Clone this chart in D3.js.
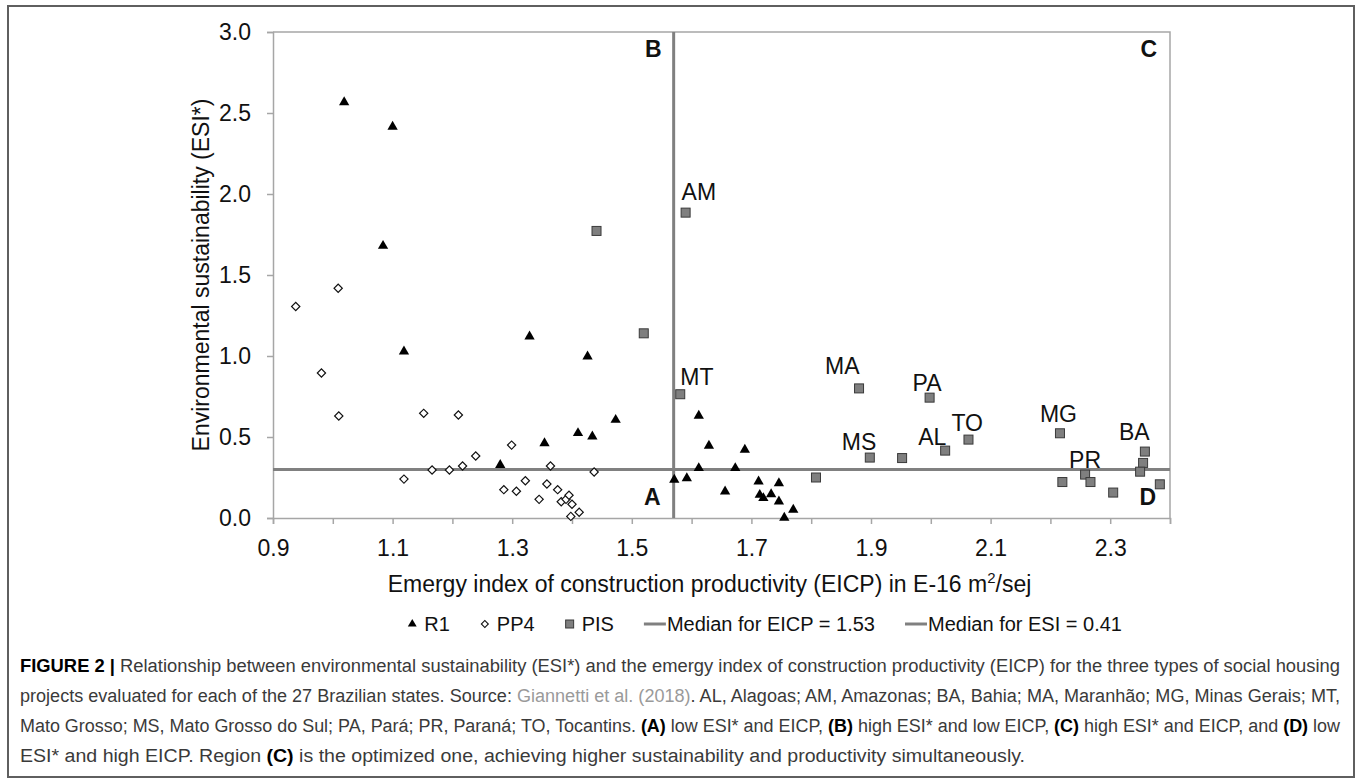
<!DOCTYPE html>
<html><head><meta charset="utf-8">
<script src="https://cdn.jsdelivr.net/npm/d3@7"></script>
<style>
body{margin:0;background:#fff}
svg{display:block}
text{font-family:Arial,"Liberation Sans",Helvetica,sans-serif;white-space:pre}
</style>
</head><body>
<svg id="chart" width="1360" height="779"></svg>
<script>
// ---------------- data ----------------
const r1X = [1.019,1.100,1.084,1.119,1.329,1.426,1.473,1.410,1.434,1.354,1.280,1.612,1.629,1.689,1.612,1.673,1.571,1.592,1.656,1.712,1.714,1.720,1.733,1.746,1.746,1.755,1.770];
const r1Y = [2.570,2.418,1.683,1.031,1.123,1.000,0.609,0.527,0.506,0.465,0.330,0.634,0.449,0.424,0.311,0.311,0.239,0.249,0.167,0.228,0.146,0.126,0.150,0.218,0.105,0.005,0.054];

const pp4X = [0.938,0.981,1.009,1.010,1.119,1.152,1.166,1.195,1.210,1.217,1.239,1.286,1.299,1.307,1.322,1.345,1.358,1.364,1.376,1.382,1.390,1.395,1.400,1.398,1.412,1.437];
const pp4Y = [1.305,0.895,1.418,0.630,0.240,0.646,0.296,0.296,0.636,0.321,0.383,0.175,0.450,0.165,0.230,0.115,0.210,0.321,0.175,0.100,0.115,0.140,0.085,0.010,0.035,0.284];

const pisX = [1.590,1.441,1.520,1.581,1.880,1.898,1.952,1.808,1.998,2.024,2.063,2.216,2.358,2.355,2.350,2.258,2.220,2.267,2.305,2.383];
const pisY = [1.885,1.772,1.140,0.764,0.800,0.373,0.370,0.250,0.743,0.416,0.484,0.523,0.410,0.340,0.286,0.268,0.222,0.222,0.157,0.208];
const pisLabels = ["AM","","","MT","MA","MS","","","PA","AL","TO","MG","BA","","","PR","","","",""];

const xTickValues = [0.9,1.0,1.1,1.2,1.3,1.4,1.5,1.6,1.7,1.8,1.9,2.0,2.1,2.2,2.3,2.4];
const xTickLabels = ["0.9","1.1","1.3","1.5","1.7","1.9","2.1","2.3"];
const yTickValues = [0,0.5,1.0,1.5,2.0,2.5,3.0];

const medianEICPLine = 1.57;
const medianESILine = 0.30;

const legendLabels = ["R1","PP4","PIS","Median for EICP = 1.53","Median for ESI = 0.41"];
const quadrantLabels = ["A","B","C","D"];

const xTitle = "Emergy index of construction productivity (EICP) in E-16 m";
const yTitle = "Environmental sustainability (ESI*)";

const captionLines = [
  [["FIGURE 2 |","b"],[" Relationship between environmental sustainability (ESI*) and the emergy index of construction productivity (EICP) for the three types of social housing",""]],
  [["projects evaluated for each of the 27 Brazilian states. Source: ",""],["Giannetti et al. (2018)","g"],[". AL, Alagoas; AM, Amazonas; BA, Bahia; MA, Maranhão; MG, Minas Gerais; MT,",""]],
  [["Mato Grosso; MS, Mato Grosso do Sul; PA, Pará; PR, Paraná; TO, Tocantins. ",""],["(A)","b"],[" low ESI* and EICP, ",""],["(B)","b"],[" high ESI* and low EICP, ",""],["(C)","b"],[" high ESI* and EICP, and ",""],["(D)","b"],[" low",""]],
  [["ESI* and high EICP. Region ",""],["(C)","b"],[" is the optimized one, achieving higher sustainability and productivity simultaneously.",""]]
];

// ---------------- layout ----------------
const svg = d3.select("#chart");
const W = 1360, H = 779;
const plot = {left:273, right:1170, top:32, bottom:518};
const x = d3.scaleLinear().domain([0.9,2.4]).range([plot.left, plot.right]);
const y = d3.scaleLinear().domain([0,3]).range([plot.bottom, plot.top]);
const axisGray = "#a6a6a6";
const medianGray = "#808080";

svg.append("rect").attr("width",W).attr("height",H).attr("fill","#fff");
// outer frame
svg.append("rect").attr("x",8).attr("y",6).attr("width",1346).attr("height",771)
  .attr("fill","none").attr("stroke","#5f5f5f").attr("stroke-width",2);

// plot border (top / right)
svg.append("path")
  .attr("d",`M${plot.left},${plot.top}H${plot.right}V${plot.bottom}`)
  .attr("fill","none").attr("stroke",axisGray).attr("stroke-width",1.5);

// y axis
const yAxis = d3.axisLeft(y).tickValues(yTickValues).tickFormat(d3.format(".1f")).tickSize(6).tickPadding(16);
const gy = svg.append("g").attr("transform",`translate(${plot.left},0)`).call(yAxis);
gy.select(".domain").attr("stroke",axisGray).attr("stroke-width",1.5);
gy.selectAll(".tick line").attr("stroke",axisGray).attr("stroke-width",1.5);
gy.selectAll(".tick text").attr("font-size",23).attr("font-family","Arial, 'Liberation Sans', sans-serif").attr("fill","#111");

// x axis
const xAxis = d3.axisBottom(x).tickValues(xTickValues).tickSize(6).tickPadding(16)
  .tickFormat(d => { const s = d3.format(".1f")(d); return xTickLabels.includes(s) ? s : ""; });
const gx = svg.append("g").attr("transform",`translate(0,${plot.bottom})`).call(xAxis);
gx.select(".domain").attr("stroke",axisGray).attr("stroke-width",1.5);
gx.selectAll(".tick line").attr("stroke",axisGray).attr("stroke-width",1.5);
gx.selectAll(".tick text").attr("font-size",23).attr("font-family","Arial, 'Liberation Sans', sans-serif").attr("fill","#111");

// axis titles
const xt = svg.append("text").attr("x",(plot.left+plot.right)/2 - 12).attr("y",592)
  .attr("text-anchor","middle").attr("font-size",23).attr("fill","#111");
xt.append("tspan").text(xTitle);
xt.append("tspan").attr("font-size",15).attr("dy",-9).text("2");
xt.append("tspan").attr("dy",9).text("/sej");

svg.append("text").attr("transform",`translate(209,${(plot.top+plot.bottom)/2}) rotate(-90)`)
  .attr("text-anchor","middle").attr("font-size",23).attr("fill","#111").text(yTitle);

// median lines
svg.append("line").attr("x1",x(medianEICPLine)).attr("x2",x(medianEICPLine))
  .attr("y1",plot.top).attr("y2",plot.bottom).attr("stroke",medianGray).attr("stroke-width",3);
svg.append("line").attr("x1",plot.left).attr("x2",plot.right)
  .attr("y1",y(medianESILine)).attr("y2",y(medianESILine)).attr("stroke",medianGray).attr("stroke-width",3);

// quadrant labels
const qPos = {
  A:{x:x(medianEICPLine)-13, y:505, a:"end"},
  B:{x:x(medianEICPLine)-12, y:plot.top+25, a:"end"},
  C:{x:plot.right-13, y:plot.top+25, a:"end"},
  D:{x:plot.right-14, y:505, a:"end"}
};
svg.selectAll("text.q").data(quadrantLabels).join("text").attr("class","q")
  .attr("x",d=>qPos[d].x).attr("y",d=>qPos[d].y).attr("text-anchor",d=>qPos[d].a)
  .attr("font-size",23).attr("font-weight","bold").attr("fill","#111").text(d=>d);

// markers
const triangle = d3.symbol(d3.symbolTriangle, 46);
const diamond = d3.symbol(d3.symbolSquare, 34);
const r1 = r1X.map((v,i)=>({x:v,y:r1Y[i]}));
const pp4 = pp4X.map((v,i)=>({x:v,y:pp4Y[i]}));
const pis = pisX.map((v,i)=>({x:v,y:pisY[i],label:pisLabels[i]}));

svg.append("g").selectAll("path").data(pp4).join("path")
  .attr("d",diamond).attr("transform",d=>`translate(${x(d.x)},${y(d.y)}) rotate(45)`)
  .attr("fill","#fff").attr("stroke","#111").attr("stroke-width",1.2);

svg.append("g").selectAll("rect").data(pis).join("rect")
  .attr("x",d=>x(d.x)-4.5).attr("y",d=>y(d.y)-4.5).attr("width",9).attr("height",9)
  .attr("fill","#7f7f7f").attr("stroke","#3a3a3a").attr("stroke-width",1);

svg.append("g").selectAll("path").data(r1).join("path")
  .attr("d",triangle).attr("transform",d=>`translate(${x(d.x)},${y(d.y)+0.5})`)
  .attr("fill","#000");

// state labels
const labelOffset = {AM:[-4,-13],MT:[0,-9],MA:[-34,-14],MS:[-28,-8],PA:[-17,-7],TO:[-17,-9],AL:[-27,-6],MG:[-20,-11],BA:[-26,-12],PR:[-16,-7]};
svg.append("g").selectAll("text").data(pis.filter(d=>d.label)).join("text")
  .attr("x",d=>x(d.x)+labelOffset[d.label][0]).attr("y",d=>y(d.y)+labelOffset[d.label][1])
  .attr("font-size",23).attr("fill","#111").text(d=>d.label);

// legend
const leg = svg.append("g");
const legY = 631, legFont = 20, gap = 30;
let lx = 0;
legendLabels.forEach((lab,i)=>{
  const g = leg.append("g");
  let off;
  if (i===0){ g.append("path").attr("d",d3.symbol(d3.symbolTriangle,34)).attr("transform",`translate(${lx+5},${legY-7})`).attr("fill","#000"); off = 17; }
  else if (i===1){ g.append("path").attr("d",d3.symbol(d3.symbolSquare,24)).attr("transform",`translate(${lx+5},${legY-7}) rotate(45)`).attr("fill","#fff").attr("stroke","#111").attr("stroke-width",1.1); off = 17; }
  else if (i===2){ g.append("rect").attr("x",lx+1).attr("y",legY-11).attr("width",8).attr("height",8).attr("fill","#7f7f7f").attr("stroke","#3a3a3a"); off = 17; }
  else { g.append("line").attr("x1",lx).attr("x2",lx+22).attr("y1",legY-7).attr("y2",legY-7).attr("stroke",medianGray).attr("stroke-width",3); off = 23; }
  const t = g.append("text").attr("x",lx+off).attr("y",legY).attr("font-size",legFont).attr("fill","#111").text(lab);
  lx += off + t.node().getComputedTextLength() + gap;
});
const legW = lx - gap;
const legEnd = 1122;
leg.attr("transform",`translate(${legEnd-legW},0)`);

// caption
const capBase = [672,702,732,762];
const capWidths = [1320,1320,1320,1005];
captionLines.forEach((line,i)=>{
  const t = svg.append("text").attr("x",20).attr("y",capBase[i]).attr("font-size",18)
    .attr("font-family","'Liberation Sans Narrow', 'Arial Narrow', Arial, sans-serif")
    .attr("fill","#3a3a3a").attr("textLength",capWidths[i]).attr("lengthAdjust","spacingAndGlyphs");
  line.forEach(([s,st])=>{
    const ts = t.append("tspan").text(s);
    if (st==="b") ts.attr("font-weight","bold").attr("fill","#000");
    if (st==="g") ts.attr("fill","#9a9a9a");
  });
});
</script>
</body></html>
